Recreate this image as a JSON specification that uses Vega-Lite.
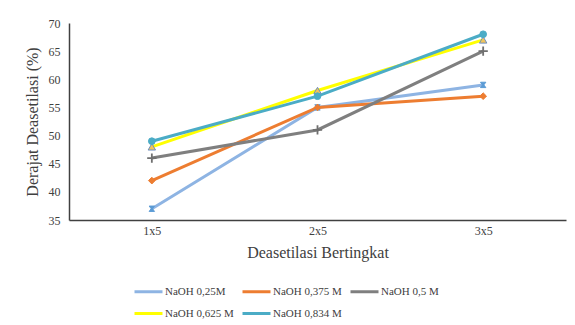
{
  "$schema": "https://vega.github.io/schema/vega-lite/v6.json",
  "width": 497,
  "height": 197,
  "padding": {"left": 24, "top": 17, "right": 4, "bottom": 4},
  "background": "white",
  "config": {
    "view": {"stroke": null},
    "font": "Liberation Serif",
    "axis": {
      "labelFont": "Liberation Serif",
      "titleFont": "Liberation Serif",
      "labelColor": "#404040",
      "titleColor": "#404040",
      "labelFontSize": 12,
      "titleFontSize": 16,
      "titleFontWeight": "normal",
      "grid": false,
      "ticks": false,
      "domainColor": "#404040",
      "domainWidth": 1.5
    }
  },
  "data": {
    "values": [
      {"tahap": "1x5", "naoh": "NaOH 0,25M", "dd": 37},
      {"tahap": "2x5", "naoh": "NaOH 0,25M", "dd": 55},
      {"tahap": "3x5", "naoh": "NaOH 0,25M", "dd": 59},
      {"tahap": "1x5", "naoh": "NaOH 0,375 M", "dd": 42},
      {"tahap": "2x5", "naoh": "NaOH 0,375 M", "dd": 55},
      {"tahap": "3x5", "naoh": "NaOH 0,375 M", "dd": 57},
      {"tahap": "1x5", "naoh": "NaOH 0,5 M", "dd": 46},
      {"tahap": "2x5", "naoh": "NaOH 0,5 M", "dd": 51},
      {"tahap": "3x5", "naoh": "NaOH 0,5 M", "dd": 65},
      {"tahap": "1x5", "naoh": "NaOH 0,625 M", "dd": 48},
      {"tahap": "2x5", "naoh": "NaOH 0,625 M", "dd": 58},
      {"tahap": "3x5", "naoh": "NaOH 0,625 M", "dd": 67},
      {"tahap": "1x5", "naoh": "NaOH 0,834 M", "dd": 49},
      {"tahap": "2x5", "naoh": "NaOH 0,834 M", "dd": 57},
      {"tahap": "3x5", "naoh": "NaOH 0,834 M", "dd": 68}
    ]
  },
  "encoding": {
    "x": {
      "field": "tahap",
      "type": "ordinal",
      "scale": {"type": "point", "padding": 0.5},
      "axis": {"title": "Deasetilasi Bertingkat", "labelAngle": 0, "labelPadding": 5, "titlePadding": 8}
    },
    "y": {
      "field": "dd",
      "type": "quantitative",
      "scale": {"domain": [35, 70], "nice": false, "zero": false},
      "axis": {"title": "Derajat Deasetilasi (%)", "values": [35, 40, 45, 50, 55, 60, 65, 70], "labelPadding": 9, "titlePadding": 8}
    }
  },
  "layer": [
    {
      "mark": {"type": "line", "strokeWidth": 3},
      "encoding": {
        "color": {
          "field": "naoh",
          "type": "nominal",
          "scale": {
            "domain": ["NaOH 0,25M", "NaOH 0,375 M", "NaOH 0,5 M", "NaOH 0,625 M", "NaOH 0,834 M"],
            "range": ["#8EB4E3", "#ED7D31", "#7F7F7F", "#FFFF00", "#4BACC6"]
          },
          "legend": {
            "title": null,
            "orient": "none",
            "legendX": 64,
            "legendY": 253,
            "direction": "horizontal",
            "columns": 3,
            "columnPadding": 2,
            "rowPadding": -7,
            "symbolType": "stroke",
            "symbolSize": 784,
            "symbolStrokeWidth": 3,
            "labelFont": "Liberation Serif",
            "labelFontSize": 11,
            "labelColor": "#404040",
            "labelOffset": 1
          }
        }
      }
    },
    {
      "transform": [{"filter": {"field": "naoh", "equal": "NaOH 0,25M"}}],
      "mark": {"type": "point", "shape": "M-0.8,-0.8H0.8L0.2,0L0.8,0.8H-0.8L-0.2,0Z", "filled": true, "fill": "#5B9BD5", "stroke": "#5B9BD5", "strokeWidth": 1, "opacity": 1, "size": 45}
    },
    {
      "transform": [{"filter": {"field": "naoh", "equal": "NaOH 0,375 M"}}],
      "mark": {"type": "point", "shape": "diamond", "filled": true, "fill": "#ED7D31", "stroke": "#ED7D31", "strokeWidth": 1, "opacity": 1, "size": 45}
    },
    {
      "transform": [{"filter": {"field": "naoh", "equal": "NaOH 0,5 M"}}],
      "mark": {"type": "point", "shape": "M-1.2,0H1.2M0,-1.2V1.2", "filled": false, "stroke": "#6F6F6F", "strokeWidth": 1.8, "opacity": 1, "size": 60}
    },
    {
      "transform": [{"filter": {"field": "naoh", "equal": "NaOH 0,625 M"}}],
      "mark": {"type": "point", "shape": "triangle-up", "filled": true, "fill": "#F2C55C", "stroke": "#6F8FBF", "strokeWidth": 1, "opacity": 1, "size": 55}
    },
    {
      "transform": [{"filter": {"field": "naoh", "equal": "NaOH 0,834 M"}}],
      "mark": {"type": "point", "shape": "circle", "filled": true, "fill": "#4BACC6", "stroke": "#4BACC6", "strokeWidth": 1, "opacity": 1, "size": 45}
    }
  ]
}
